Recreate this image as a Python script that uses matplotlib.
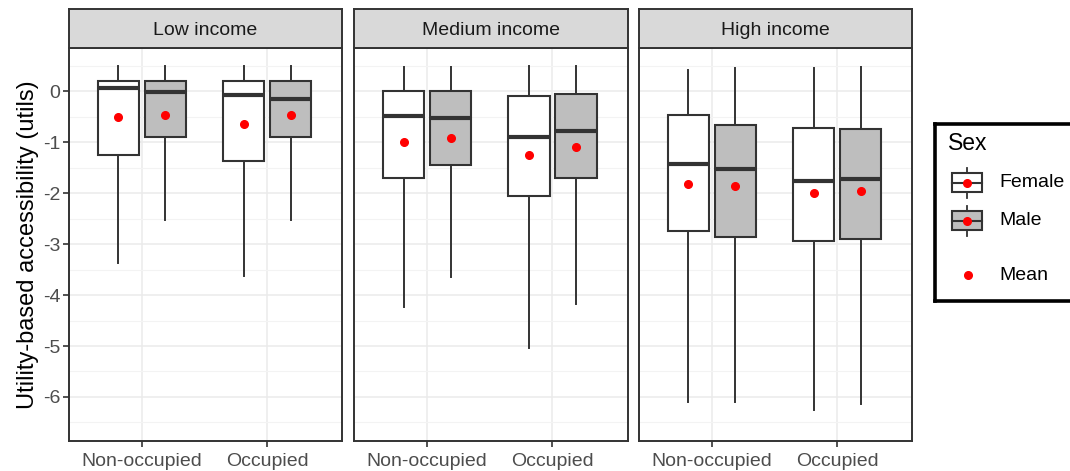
import numpy as np
import matplotlib
matplotlib.use("Agg")
import matplotlib.pyplot as plt
from matplotlib.patches import Rectangle

plt.rcParams['font.family'] = ['Liberation Sans', 'DejaVu Sans']

# facets and x categories
incomes = ['Low income', 'Medium income', 'High income']
occupations = ['Non-occupied', 'Occupied']
sexes = ['Female', 'Male']

# box statistics, one row per income group, columns = Non-occupied, Occupied
female_whishi = [[0.50, 0.50], [0.48, 0.50], [0.42, 0.46]]
female_q3 = [[0.20, 0.20], [0.00, -0.08], [-0.47, -0.71]]
female_med = [[0.06, -0.07], [-0.49, -0.90], [-1.43, -1.76]]
female_q1 = [[-1.24, -1.36], [-1.69, -2.06], [-2.74, -2.93]]
female_whislo = [[-3.36, -3.63], [-4.23, -5.03], [-6.10, -6.26]]
female_mean = [[-0.50, -0.64], [-1.00, -1.24], [-1.81, -2.00]]

male_whishi = [[0.50, 0.50], [0.48, 0.50], [0.46, 0.48]]
male_q3 = [[0.20, 0.20], [0.00, -0.05], [-0.65, -0.73]]
male_med = [[-0.02, -0.14], [-0.53, -0.77], [-1.52, -1.71]]
male_q1 = [[-0.89, -0.89], [-1.45, -1.69], [-2.86, -2.90]]
male_whislo = [[-2.53, -2.53], [-3.64, -4.17], [-6.10, -6.14]]
male_mean = [[-0.47, -0.47], [-0.91, -1.09], [-1.85, -1.96]]

stats_by_sex = {
    'Female': (female_whishi, female_q3, female_med, female_q1, female_whislo, female_mean),
    'Male': (male_whishi, male_q3, male_med, male_q1, male_whislo, male_mean),
}
fills = {'Female': 'white', 'Male': '#BEBEBE'}
offsets = {'Female': -0.1875, 'Male': 0.1875}

dark = '#333333'
tick_grey = '#4D4D4D'
grid_major = '#EBEBEB'
grid_minor = '#F3F3F3'
fs = 14

W, H = 1070, 471
fig = plt.figure(figsize=(W / 100, H / 100), dpi=100)

panel_left = [68.7, 354.0, 638.7]
panel_w = 273.5
plot_top, plot_bot = 47.7, 440.7
strip_top = 9.3

for k, income in enumerate(incomes):
    ax = fig.add_axes([panel_left[k] / W, (H - plot_bot) / H,
                       panel_w / W, (plot_bot - plot_top) / H])
    for sex in sexes:
        whi, q3, med, q1, wlo, mn = stats_by_sex[sex]
        stats = []
        for j in range(len(occupations)):
            stats.append(dict(whishi=whi[k][j], q3=q3[k][j], med=med[k][j],
                              q1=q1[k][j], whislo=wlo[k][j], mean=mn[k][j],
                              fliers=[]))
        pos = np.arange(1, len(occupations) + 1) + offsets[sex]
        ax.bxp(stats, positions=pos, widths=0.33, patch_artist=True,
               showcaps=False, showfliers=False, showmeans=True,
               boxprops=dict(facecolor=fills[sex], edgecolor=dark, linewidth=1.5),
               whiskerprops=dict(color=dark, linewidth=1.4),
               medianprops=dict(color=dark, linewidth=3.0, solid_capstyle='butt'),
               meanprops=dict(marker='o', markerfacecolor='red',
                              markeredgecolor='red', markersize=5.5),
               manage_ticks=False, zorder=3)

    ax.set_xlim(0.415, 2.6)
    ax.set_ylim(-6.86, 0.86)
    ax.set_xticks([1, 2])
    ax.set_xticklabels(occupations, fontsize=fs, color=tick_grey)
    ax.set_yticks(np.arange(-6, 1))
    ax.set_yticks(np.arange(-6.5, 1.0, 1.0), minor=True)
    ax.grid(which='major', color=grid_major, linewidth=1.1, zorder=0)
    ax.grid(which='minor', axis='y', color=grid_minor, linewidth=0.8, zorder=0)
    ax.set_axisbelow(True)
    ax.tick_params(axis='x', which='major', length=4, width=1.2, color=dark, pad=5)
    ax.tick_params(axis='y', which='minor', length=0)
    if k == 0:
        ax.set_yticklabels([str(v) for v in range(-6, 1)], fontsize=fs, color=tick_grey)
        ax.tick_params(axis='y', which='major', length=4, width=1.2, color=dark, pad=2)
        ax.set_ylabel('Utility-based accessibility (utils)', fontsize=17, color='black', labelpad=3)
    else:
        ax.tick_params(axis='y', which='major', length=0, labelleft=False)
    for s in ax.spines.values():
        s.set_color(dark)
        s.set_linewidth(1.4)

    # facet strip
    sax = fig.add_axes([panel_left[k] / W, (H - plot_top) / H,
                        panel_w / W, (plot_top - strip_top) / H])
    sax.set_facecolor('#D9D9D9')
    sax.set_xticks([])
    sax.set_yticks([])
    for s in sax.spines.values():
        s.set_color(dark)
        s.set_linewidth(1.4)
    sax.text(0.5, 0.45, income, ha='center', va='center', fontsize=fs, color='#1A1A1A',
             transform=sax.transAxes)

# legend drawn in its own axes, coordinates in pixels from the box's top-left
lg_left, lg_top, lg_bot = 934.7, 124.3, 300.5
lax = fig.add_axes([lg_left / W, (H - lg_bot) / H, (W - lg_left + 3) / W, (lg_bot - lg_top) / H])
lax.set_xlim(0, W - lg_left + 3)
lax.set_ylim(lg_bot - lg_top, 0)
lax.set_xticks([])
lax.set_yticks([])
for s in lax.spines.values():
    s.set_color('black')
    s.set_linewidth(2.6)
lax.spines['right'].set_visible(False)

lax.text(13.6, 19.5, 'Sex', fontsize=16.5, va='center', ha='left', color='black')
key_cy = {'Female': 58.5, 'Male': 96.2}
for sex in sexes:
    cy = key_cy[sex]
    lax.plot([32.7, 32.7], [cy - 15, cy + 15], color=dark, linewidth=1.3, zorder=2)
    lax.add_patch(Rectangle((17.0, cy - 9.5), 30, 19, facecolor=fills[sex],
                            edgecolor=dark, linewidth=1.5, zorder=3))
    lax.plot([17.0, 47.0], [cy, cy], color=dark, linewidth=1.5, zorder=4)
    lax.plot([32.7], [cy], 'o', color='red', markersize=5.5, zorder=5)
    lax.text(64.3, cy, sex, fontsize=fs, va='center', ha='left', color='black')
lax.plot([33.0], [150.7], 'o', color='red', markersize=5.5)
lax.text(64.3, 150.7, 'Mean', fontsize=fs, va='center', ha='left', color='black')

fig.savefig('out.png', dpi=100)
